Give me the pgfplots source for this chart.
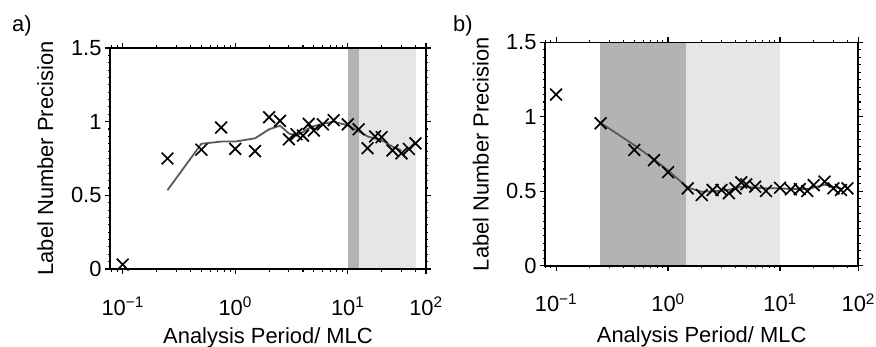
\documentclass[border=0pt]{standalone}
\usepackage{fontspec}
\setmainfont{Liberation Sans}
\usepackage{pgfplots}
\usepackage{pgfplotstable}
\pgfplotsset{compat=1.18}
\definecolor{darkband}{HTML}{B3B3B3}
\definecolor{lightband}{HTML}{E6E6E6}
\definecolor{trend}{HTML}{5A5A5A}

\pgfplotstableread{
x y
0.1 0.03
0.25 0.75
0.5 0.81
0.75 0.96
1 0.815
1.5 0.80
2 1.03
2.5 1.005
3 0.88
3.5 0.915
4 0.905
4.5 0.985
5 0.94
6 0.982
7.5 1.01
10 0.982
12.5 0.948
15 0.82
17.5 0.90
20 0.895
25 0.805
30 0.785
35 0.815
40 0.853
}\ptsA
\pgfplotstableread{
x y
0.25 0.535
0.5 0.85
0.75 0.865
1 0.865
1.5 0.887
2 0.948
2.5 0.973
3 0.92
3.5 0.905
4 0.93
4.5 0.955
5 0.97
6 0.985
7.5 1.0
10 0.975
12.5 0.935
15 0.9
17.5 0.885
20 0.875
25 0.83
30 0.805
}\lineA
\pgfplotstableread{
x y
0.1 1.15
0.25 0.957
0.5 0.778
0.75 0.71
1 0.628
1.5 0.52
2 0.475
2.5 0.509
3 0.509
3.5 0.487
4 0.52
4.5 0.56
5 0.547
6 0.531
7.5 0.502
10 0.524
12.5 0.513
15 0.515
17.5 0.502
20 0.542
25 0.565
30 0.52
35 0.509
40 0.52
}\ptsB
\pgfplotstableread{
x y
0.25 0.96
0.5 0.81
0.75 0.715
1 0.64
1.5 0.525
2 0.497
2.5 0.5
3 0.505
3.5 0.51
4 0.52
4.5 0.53
5 0.53
6 0.525
7.5 0.52
10 0.52
12.5 0.515
15 0.515
17.5 0.515
20 0.525
25 0.545
30 0.53
35 0.52
}\lineB

\pgfplotsset{
  panel/.style={
    scale only axis, ymin=0, ymax=1.5,
    axis on top, clip=false,
    axis line style={line width=1.8bp},
    tick align=outside, tick style={black, line width=1.1bp},
    major tick length=5bp, minor tick length=2.5bp,
    ytick={0,0.5,1,1.5}, yticklabels={0,0.5,1,1.5},
    minor y tick num=9,
    xticklabels={10\textsuperscript{−1},10\textsuperscript{0},10\textsuperscript{1},10\textsuperscript{2}},
    minor xtick={0.08,0.09,0.2,0.3,0.4,0.5,0.6,0.7,0.8,0.9,2,3,4,5,6,7,8,9,20,30,40},
    xlabel={Analysis Period/ MLC}, ylabel={Label Number Precision},
    every tick label/.append style={font=\fontsize{22}{26}\selectfont},
    label style={font=\fontsize{22}{26}\selectfont},
    xticklabel style={anchor=base, yshift=-41bp},
    ylabel style={at={(axis description cs:-0.205,0.5)}, anchor=center, rotate=0},
  },
  pts/.style={only marks, mark=x, mark size=8.3bp, black, line width=1.7bp},
  trendline/.style={no marks, trend, line width=1.8bp},
}

\begin{document}
\begin{tikzpicture}[font=\fontsize{22}{26}\selectfont]
\useasboundingbox (0bp,0bp) rectangle (876bp,347bp);
\node[anchor=base west, inner sep=0] at (12bp,315bp) {a)};
\node[anchor=base west, inner sep=0] at (453bp,315bp) {b)};
\begin{axis}[xmode=log, panel, at={(110bp,78bp)}, anchor=south west, width=316bp, height=221bp,
  xmin=0.0771, xmax=49.6, xtick={0.1,1,10,49.6},
  xlabel style={at={(axis description cs:0.5,0)}, anchor=base, yshift=-74bp}]
  \addplot[fill=darkband, draw=none] coordinates {(10,0) (10,1.5) (12.7,1.5) (12.7,0)};
  \addplot[fill=lightband, draw=none] coordinates {(12.7,0) (12.7,1.5) (40.4,1.5) (40.4,0)};
  \addplot[trendline] table[x=x,y=y] {\lineA};
  \addplot[pts] table[x=x,y=y] {\ptsA};
\end{axis}
\begin{axis}[xmode=log, panel, at={(545bp,81.3bp)}, anchor=south west, width=313.3bp, height=223.2bp,
  xmin=0.0797, xmax=50, xtick={0.1,1,10,50},
  xlabel style={at={(axis description cs:0.5,0)}, anchor=base, yshift=-77bp}]
  \addplot[fill=darkband, draw=none] coordinates {(0.246,0) (0.246,1.5) (1.46,1.5) (1.46,0)};
  \addplot[fill=lightband, draw=none] coordinates {(1.46,0) (1.46,1.5) (10,1.5) (10,0)};
  \addplot[trendline] table[x=x,y=y] {\lineB};
  \addplot[pts] table[x=x,y=y] {\ptsB};
\end{axis}
\end{tikzpicture}
\end{document}
